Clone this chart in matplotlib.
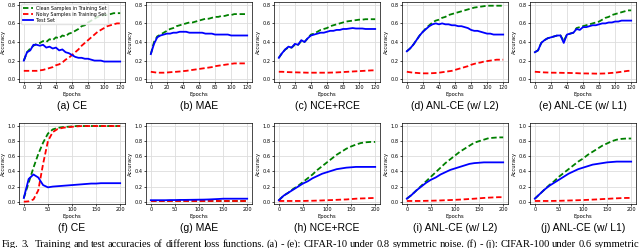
import numpy as np
import matplotlib
matplotlib.use("Agg")
import matplotlib.pyplot as plt

# epochs
ep_c10 = list(range(0, 121, 4))
ep_c100 = list(range(0, 201, 10))

# CIFAR-10, 0.8 symmetric noise
clean_a = [0.20, 0.29, 0.33, 0.36, 0.38, 0.39, 0.41, 0.40, 0.43, 0.42, 0.45, 0.44, 0.47, 0.46, 0.49, 0.50,
           0.52, 0.54, 0.57, 0.58, 0.61, 0.63, 0.65, 0.67, 0.68, 0.69, 0.69, 0.70, 0.71, 0.71, 0.71]
noisy_a = [0.09, 0.09, 0.09, 0.09, 0.09, 0.095, 0.10, 0.11, 0.12, 0.13, 0.15, 0.16, 0.18, 0.21, 0.23, 0.26,
           0.29, 0.32, 0.36, 0.39, 0.42, 0.45, 0.48, 0.51, 0.53, 0.55, 0.57, 0.58, 0.59, 0.60, 0.60]
test_a = [0.20, 0.29, 0.31, 0.37, 0.37, 0.36, 0.37, 0.34, 0.35, 0.33, 0.34, 0.31, 0.32, 0.29, 0.28, 0.26,
          0.24, 0.23, 0.23, 0.22, 0.22, 0.21, 0.20, 0.20, 0.20, 0.19, 0.19, 0.19, 0.19, 0.19, 0.19]

clean_b = [0.27, 0.40, 0.46, 0.48, 0.50, 0.52, 0.54, 0.55, 0.57, 0.58, 0.59, 0.60, 0.61, 0.61, 0.62, 0.63,
           0.64, 0.65, 0.65, 0.66, 0.67, 0.67, 0.68, 0.68, 0.69, 0.69, 0.70, 0.70, 0.70, 0.70, 0.70]
noisy_b = [0.08, 0.075, 0.07, 0.07, 0.07, 0.072, 0.075, 0.078, 0.08, 0.083, 0.087, 0.09, 0.095, 0.10, 0.105, 0.11,
           0.115, 0.12, 0.125, 0.13, 0.14, 0.145, 0.15, 0.155, 0.16, 0.165, 0.17, 0.17, 0.17, 0.17, 0.17]
test_b = [0.27, 0.38, 0.45, 0.47, 0.48, 0.49, 0.49, 0.50, 0.50, 0.51, 0.51, 0.51, 0.50, 0.50, 0.50, 0.50,
          0.50, 0.49, 0.49, 0.49, 0.48, 0.48, 0.48, 0.48, 0.48, 0.47, 0.47, 0.47, 0.47, 0.47, 0.47]

clean_c = [0.23, 0.28, 0.32, 0.34, 0.34, 0.37, 0.37, 0.41, 0.40, 0.44, 0.48, 0.49, 0.51, 0.53, 0.54, 0.55,
           0.57, 0.58, 0.59, 0.60, 0.61, 0.62, 0.625, 0.63, 0.635, 0.64, 0.64, 0.645, 0.645, 0.645, 0.645]
noisy_c = [0.08, 0.08, 0.078, 0.076, 0.075, 0.074, 0.073, 0.072, 0.071, 0.07, 0.07, 0.07, 0.07, 0.07, 0.07, 0.07,
           0.071, 0.072, 0.073, 0.075, 0.077, 0.079, 0.081, 0.083, 0.085, 0.087, 0.089, 0.091, 0.093, 0.095, 0.095]
test_c = [0.23, 0.28, 0.32, 0.35, 0.34, 0.38, 0.37, 0.42, 0.40, 0.44, 0.47, 0.48, 0.49, 0.50, 0.50, 0.51,
          0.52, 0.52, 0.53, 0.53, 0.54, 0.54, 0.545, 0.55, 0.545, 0.545, 0.545, 0.54, 0.54, 0.54, 0.54]

clean_d = [0.30, 0.33, 0.37, 0.42, 0.47, 0.51, 0.55, 0.58, 0.61, 0.63, 0.64, 0.66, 0.67, 0.69, 0.70, 0.71,
           0.72, 0.73, 0.74, 0.75, 0.76, 0.77, 0.775, 0.78, 0.785, 0.79, 0.79, 0.79, 0.79, 0.79, 0.79]
noisy_d = [0.08, 0.075, 0.07, 0.068, 0.065, 0.063, 0.063, 0.063, 0.065, 0.067, 0.07, 0.075, 0.08, 0.085, 0.09, 0.10,
           0.11, 0.12, 0.13, 0.14, 0.155, 0.165, 0.175, 0.18, 0.19, 0.195, 0.20, 0.205, 0.21, 0.21, 0.21]
test_d = [0.30, 0.33, 0.37, 0.42, 0.47, 0.51, 0.54, 0.57, 0.59, 0.60, 0.59, 0.60, 0.59, 0.59, 0.58, 0.58,
          0.57, 0.57, 0.56, 0.55, 0.53, 0.52, 0.52, 0.51, 0.50, 0.49, 0.49, 0.48, 0.48, 0.48, 0.48]

clean_e = [0.29, 0.31, 0.39, 0.42, 0.44, 0.45, 0.46, 0.47, 0.47, 0.41, 0.48, 0.49, 0.50, 0.55, 0.56, 0.57,
           0.58, 0.59, 0.60, 0.61, 0.62, 0.64, 0.66, 0.67, 0.69, 0.70, 0.71, 0.72, 0.73, 0.74, 0.74]
noisy_e = [0.08, 0.078, 0.075, 0.073, 0.072, 0.07, 0.07, 0.069, 0.069, 0.068, 0.068, 0.067, 0.066, 0.065, 0.063, 0.062,
           0.062, 0.061, 0.061, 0.06, 0.06, 0.061, 0.062, 0.065, 0.068, 0.07, 0.075, 0.08, 0.085, 0.09, 0.09]
test_e = [0.29, 0.31, 0.39, 0.42, 0.44, 0.45, 0.46, 0.47, 0.47, 0.39, 0.48, 0.49, 0.50, 0.54, 0.53, 0.56,
          0.56, 0.57, 0.58, 0.58, 0.59, 0.60, 0.60, 0.61, 0.61, 0.62, 0.62, 0.63, 0.63, 0.63, 0.63]

# CIFAR-100, 0.6 symmetric noise
clean_f = [0.05, 0.25, 0.45, 0.63, 0.78, 0.90, 0.955, 0.975, 0.985, 0.99, 0.995,
           1.0, 1.0, 1.0, 1.0, 1.0, 1.0, 1.0, 1.0, 1.0, 1.0]
noisy_f = [0.0, 0.005, 0.03, 0.15, 0.50, 0.80, 0.92, 0.96, 0.975, 0.985, 0.99,
           0.995, 1.0, 1.0, 1.0, 1.0, 1.0, 1.0, 1.0, 1.0, 1.0]
test_f = [0.05, 0.30, 0.36, 0.32, 0.22, 0.19, 0.20, 0.205, 0.21, 0.215, 0.22,
          0.225, 0.23, 0.235, 0.24, 0.24, 0.245, 0.245, 0.245, 0.245, 0.245]

clean_g = [0.01] * 21
noisy_g = [0.01] * 21
test_g = [0.02, 0.02, 0.02, 0.02, 0.022, 0.022, 0.024, 0.024, 0.025, 0.026, 0.027,
          0.028, 0.03, 0.033, 0.036, 0.04, 0.04, 0.04, 0.04, 0.04, 0.04]

clean_h = [0.02, 0.08, 0.12, 0.17, 0.21, 0.26, 0.31, 0.36, 0.42, 0.47, 0.52,
           0.57, 0.62, 0.66, 0.70, 0.73, 0.755, 0.775, 0.785, 0.79, 0.79]
noisy_h = [0.01, 0.01, 0.01, 0.01, 0.01, 0.01, 0.012, 0.013, 0.015, 0.017, 0.02,
           0.022, 0.025, 0.028, 0.03, 0.035, 0.04, 0.043, 0.045, 0.048, 0.05]
test_h = [0.02, 0.08, 0.12, 0.16, 0.20, 0.24, 0.27, 0.31, 0.34, 0.37, 0.39,
          0.41, 0.43, 0.44, 0.45, 0.455, 0.46, 0.46, 0.46, 0.46, 0.46]

clean_i = [0.04, 0.09, 0.15, 0.21, 0.27, 0.33, 0.39, 0.45, 0.51, 0.56, 0.61,
           0.66, 0.70, 0.74, 0.78, 0.80, 0.82, 0.84, 0.845, 0.85, 0.85]
noisy_i = [0.01, 0.01, 0.01, 0.01, 0.012, 0.013, 0.015, 0.017, 0.02, 0.022, 0.025,
           0.028, 0.032, 0.036, 0.04, 0.045, 0.05, 0.054, 0.057, 0.06, 0.06]
test_i = [0.04, 0.09, 0.15, 0.20, 0.25, 0.29, 0.32, 0.36, 0.39, 0.42, 0.44,
          0.46, 0.48, 0.50, 0.51, 0.515, 0.52, 0.52, 0.52, 0.52, 0.52]

clean_j = [0.04, 0.10, 0.16, 0.22, 0.27, 0.33, 0.38, 0.43, 0.48, 0.53, 0.57,
           0.62, 0.66, 0.70, 0.74, 0.77, 0.80, 0.82, 0.83, 0.835, 0.835]
noisy_j = [0.01, 0.01, 0.01, 0.01, 0.011, 0.012, 0.014, 0.016, 0.018, 0.02, 0.022,
           0.025, 0.028, 0.031, 0.035, 0.038, 0.042, 0.045, 0.048, 0.05, 0.05]
test_j = [0.04, 0.10, 0.16, 0.21, 0.25, 0.29, 0.33, 0.37, 0.40, 0.43, 0.45,
          0.47, 0.49, 0.50, 0.51, 0.52, 0.525, 0.53, 0.53, 0.53, 0.53]

captions = ["(a) CE", "(b) MAE", "(c) NCE+RCE", "(d) ANL-CE (w/ L2)", "(e) ANL-CE (w/ L1)",
            "(f) CE", "(g) MAE", "(h) NCE+RCE", "(i) ANL-CE (w/ L2)", "(j) ANL-CE (w/ L1)"]
fig_caption = ("Fig. 3.  Training and test accuracies of different loss functions. (a) - (e): "
               "CIFAR-10 under 0.8 symmetric noise. (f) - (j): CIFAR-100 under 0.6 symmetric")
series = [(clean_a, noisy_a, test_a), (clean_b, noisy_b, test_b), (clean_c, noisy_c, test_c),
          (clean_d, noisy_d, test_d), (clean_e, noisy_e, test_e),
          (clean_f, noisy_f, test_f), (clean_g, noisy_g, test_g), (clean_h, noisy_h, test_h),
          (clean_i, noisy_i, test_i), (clean_j, noisy_j, test_j)]

W, H = 640, 248
fig = plt.figure(figsize=(W / 100, H / 100), dpi=100)

lefts = [19, 146, 274, 402, 530]
aw = 106
rows = [(2, 82, 106), (123, 204, 228)]  # top, bottom, caption y (pixels)

for k, (clean, noisy, test) in enumerate(series):
    r = k // 5
    c = k % 5
    top, bot, capy = rows[r]
    ax = fig.add_axes([lefts[c] / W, 1 - bot / H, aw / W, (bot - top) / H])
    x = ep_c10 if r == 0 else ep_c100
    ax.plot(x, clean, color="g", ls="--", lw=1.3, dashes=(3, 1.5), label="Clean Samples in Training Set")
    ax.plot(x, noisy, color="r", ls="--", lw=1.3, dashes=(3, 1.5), label="Noisy Samples in Training Set")
    ax.plot(x, test, color="b", lw=1.3, label="Test Set")
    if r == 0:
        ax.set_xlim(-6, 126)
        ax.set_ylim(-0.03, 0.83)
        ax.set_xticks([0, 20, 40, 60, 80, 100, 120])
        ax.set_yticks([0.0, 0.2, 0.4, 0.6, 0.8])
    else:
        ax.set_xlim(-10, 210)
        ax.set_ylim(-0.03, 1.04)
        ax.set_xticks([0, 50, 100, 150, 200])
        ax.set_yticks([0.0, 0.2, 0.4, 0.6, 0.8, 1.0])
    ax.grid(True, color="#dddddd", lw=0.6)
    ax.tick_params(labelsize=3.6, length=1.5, width=0.5, pad=1)
    for s in ax.spines.values():
        s.set_linewidth(0.5)
    ax.set_xlabel("Epochs", fontsize=3.8, labelpad=1)
    ax.set_ylabel("Accuracy", fontsize=3.8, labelpad=1)
    if k == 0:
        ax.legend(loc="upper left", fontsize=3.4, handlelength=2.2, borderpad=0.3,
                  labelspacing=0.2, handletextpad=0.6, frameon=True, framealpha=0.8,
                  edgecolor="#dddddd")
    fig.text((lefts[c] + aw / 2) / W, 1 - capy / H, captions[k], ha="center", va="center",
             fontsize=7.5, family="Liberation Sans")

# justified figure caption, spread across the full width
words = [w for w in fig_caption.split(" ") if w != ""]
renderer = fig.canvas.get_renderer()
x0, x1 = 2, 639
texts = []
total = 0
for w in words:
    t = fig.text(0, 1 - 247 / H, w, ha="left", va="baseline", fontsize=7.6, family="Liberation Serif")
    bb = t.get_window_extent(renderer=renderer)
    texts.append((t, bb.width))
    total += bb.width
gap = (x1 - x0 - total - 3) / (len(words) - 1)
xpos = x0
for i, (t, wd) in enumerate(texts):
    t.set_x(xpos / W)
    xpos += wd + gap
    if words[i] == "3.":
        xpos += 3

fig.savefig("out.png", dpi=100)
